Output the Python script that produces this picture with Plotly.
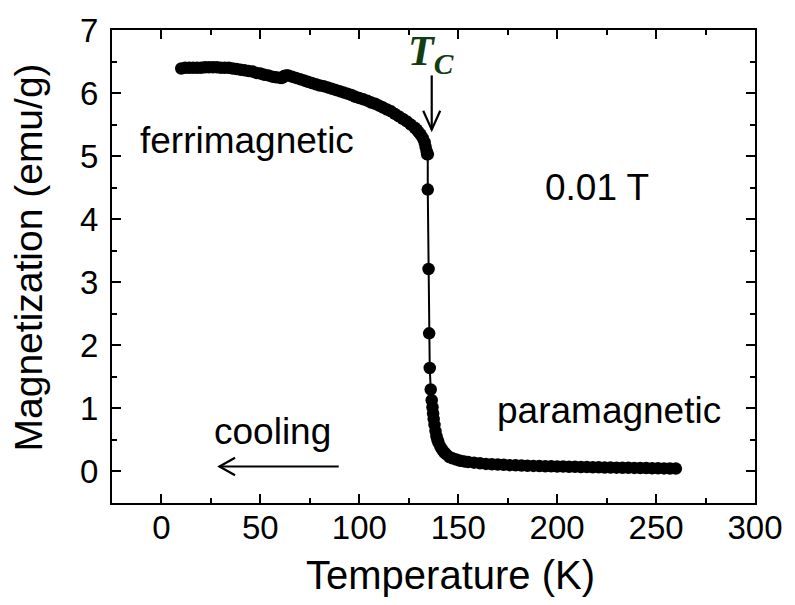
import plotly.graph_objects as go

# Field-cooled magnetization at 0.01 T
T_K = [10, 12, 14, 16, 18, 20, 22, 24, 26, 28, 30, 32, 34, 36, 38, 40, 42, 44, 46, 48,
       50, 52, 54, 56, 58, 60, 61, 62, 63, 64, 66, 68, 70, 72, 74, 76, 78, 80, 82, 84,
       86, 88, 90, 92, 94, 96, 98, 100, 102, 104, 106, 108, 110, 112, 114, 116, 118, 120,
       122, 124, 126, 128, 129, 130, 131, 132, 133, 133.5, 134, 134.3,
       134.6, 134.6, 135.0, 135.3, 135.6, 136.1, 136.6,
       137.0, 137.3, 137.6, 138.0, 138.5, 139.0, 139.5, 140.0, 141.0, 142.0, 143.0, 144.0,
       145.5, 147.0, 149.0, 151.0, 153.0, 155.0, 158.0, 161.0, 164.0, 167.0, 170.0, 173.0,
       176.0, 179.0, 182.0, 185.0, 188.0, 191.0, 194.0, 197.0, 200.0, 203, 206, 209, 212,
       215, 218, 221, 224, 227, 230, 233, 236, 239, 242, 245, 248, 251, 254, 257, 260]
M_emu = [6.39, 6.40, 6.40, 6.40, 6.40, 6.40, 6.41, 6.41, 6.41, 6.41, 6.40, 6.40, 6.40, 6.39,
         6.38, 6.37, 6.36, 6.35, 6.34, 6.32, 6.31, 6.29, 6.28, 6.26, 6.25, 6.24, 6.24, 6.27,
         6.28, 6.28, 6.26, 6.24, 6.22, 6.20, 6.18, 6.16, 6.14, 6.12, 6.11, 6.09, 6.07, 6.05,
         6.03, 6.01, 5.99, 5.97, 5.94, 5.92, 5.90, 5.88, 5.85, 5.83, 5.80, 5.77, 5.74, 5.71,
         5.67, 5.63, 5.59, 5.55, 5.50, 5.45, 5.42, 5.38, 5.34, 5.29, 5.22, 5.15, 5.08, 5.03,
         5.03, 4.47, 3.21, 2.19, 1.64, 1.30, 1.13,
         1.02, 0.92, 0.83, 0.74, 0.64, 0.56, 0.50, 0.46, 0.39, 0.34, 0.30, 0.27,
         0.23, 0.21, 0.19, 0.17, 0.16, 0.15, 0.14, 0.13, 0.12, 0.115, 0.11, 0.105,
         0.10, 0.097, 0.094, 0.091, 0.088, 0.085, 0.083, 0.081, 0.079, 0.077, 0.075, 0.073,
         0.071, 0.069, 0.067, 0.065, 0.063, 0.062, 0.060, 0.059, 0.057, 0.056, 0.054, 0.053,
         0.051, 0.050, 0.048, 0.047, 0.046]

x_ticks = [0, 50, 100, 150, 200, 250, 300]
y_ticks = [0, 1, 2, 3, 4, 5, 6, 7]

FONT = "Arial, Liberation Sans, sans-serif"
SERIF = "Times New Roman, Liberation Serif, serif"

fig = go.Figure()
fig.add_trace(go.Scatter(
    x=T_K, y=M_emu, mode="lines+markers",
    line=dict(color="black", width=2),
    marker=dict(color="black", size=12.5, line=dict(width=0)),
    showlegend=False, hoverinfo="x+y",
))

axis_common = dict(
    showline=True, linecolor="black", linewidth=2, mirror="allticks",
    ticks="inside", ticklen=9, tickwidth=1.5, tickcolor="black",
    showgrid=False, zeroline=False,
    tickfont=dict(family=FONT, size=33, color="black"),
)

fig.update_xaxes(
    range=[-25, 300], tickvals=x_ticks, ticklabelstandoff=-6,
    minor=dict(ticks="inside", ticklen=5, tickwidth=1.5, tickcolor="black", dtick=25, tick0=0),
    **axis_common,
)
fig.update_yaxes(
    range=[-0.5, 7], tickvals=y_ticks, ticklabelstandoff=5,
    minor=dict(ticks="inside", ticklen=5, tickwidth=1.5, tickcolor="black", dtick=0.5, tick0=0),
    **axis_common,
)

ann_font = dict(family=FONT, size=37, color="black")
title_font = dict(family=FONT, size=40, color="black")
annotations = [
    dict(x=0.526, y=-0.152, xref="paper", yref="paper", text="Temperature (K)",
         showarrow=False, font=title_font, xanchor="center", yanchor="middle"),
    dict(x=-0.13, y=0.52, xref="paper", yref="paper", text="Magnetization (emu/g)",
         showarrow=False, font=dict(family=FONT, size=39, color="black"), textangle=-90,
         xanchor="center", yanchor="middle"),
    dict(x=43, y=5.25, text="ferrimagnetic", showarrow=False, font=ann_font,
         xanchor="center", yanchor="middle"),
    dict(x=220, y=4.5, text="0.01 T", showarrow=False, font=ann_font,
         xanchor="center", yanchor="middle"),
    dict(x=226, y=0.96, text="paramagnetic", showarrow=False, font=ann_font,
         xanchor="center", yanchor="middle"),
    dict(x=56, y=0.64, text="cooling", showarrow=False, font=ann_font,
         xanchor="center", yanchor="middle"),
    dict(x=136.2, y=6.62, text="<b><i>T</i></b><sub><b><i>C</i></b></sub>", showarrow=False,
         font=dict(family=SERIF, size=42, color="#123d12"),
         xanchor="center", yanchor="middle"),
]

shapes = [
    # Tc arrow
    dict(type="line", x0=136.6, y0=6.28, x1=136.6, y1=5.42, line=dict(color="black", width=2.2)),
    dict(type="path", path="M 132.3 5.72 L 136.6 5.42 L 140.9 5.72",
         line=dict(color="black", width=2.2)),
    # cooling arrow
    dict(type="line", x0=89.6, y0=0.079, x1=29.3, y1=0.079, line=dict(color="black", width=2.2)),
    dict(type="path", path="M 37.2 0.217 L 29.3 0.079 L 37.2 -0.059",
         line=dict(color="black", width=2.2)),
]

fig.update_layout(
    width=795, height=605,
    margin=dict(l=112, r=37, t=28, b=102),
    paper_bgcolor="white", plot_bgcolor="white",
    annotations=annotations, shapes=shapes,
)

fig.write_html("out.html")
